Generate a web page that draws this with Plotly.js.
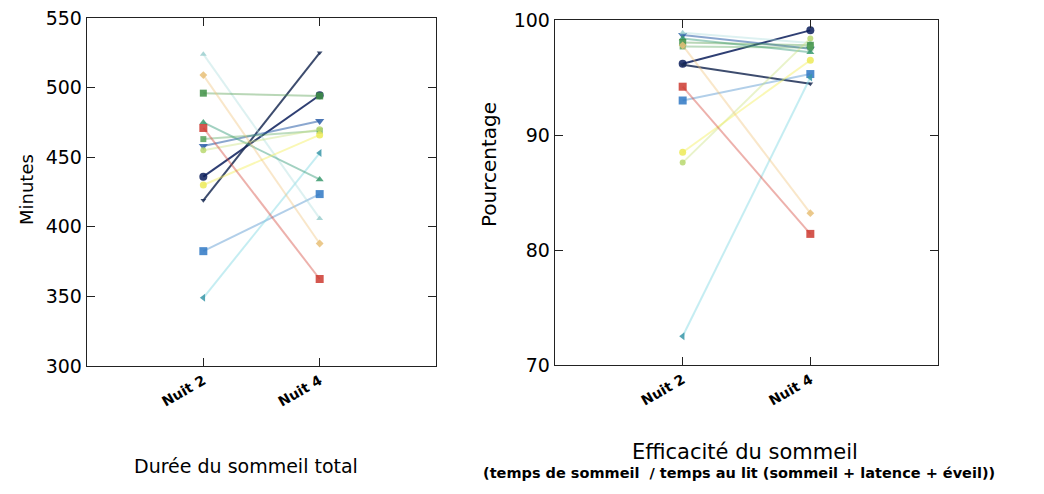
<!DOCTYPE html>
<html>
<head>
<meta charset="utf-8">
<script src="https://cdn.plot.ly/plotly-3.0.1.min.js"></script>
<style>html,body{margin:0;padding:0;background:#fff}#chart{width:1044px;height:494px}</style>
</head>
<body>
<div id="chart"></div>
<script>
// ---- data ----
const nights = ['Nuit 2', 'Nuit 4'];
// total sleep time (minutes), one pair [Nuit 2, Nuit 4] per subject
const tstNuit2 = [436, 419, 458, 382.5, 349, 524, 475, 496, 463, 455, 430, 509, 471];
const tstNuit4 = [494.5, 525, 476, 423.5, 453, 406, 434, 494, 469, 470, 466, 388, 362.5];
// sleep efficiency (%)
const effNuit2 = [96.2, 96.1, 98.7, 93.0, 72.5, 98.9, 98.4, 98.05, 97.7, 87.6, 88.5, 97.8, 94.2];
const effNuit4 = [99.1, 94.45, 97.5, 95.3, 95.0, 98.0, 97.2, 97.8, 97.6, 98.4, 96.5, 83.2, 81.4];
const tstTicks = [300, 350, 400, 450, 500, 550];
const effTicks = [70, 80, 90, 100];

// ---- styles ----
const lineColors = ['#0b1d5a', '#1b2d55', '#2c5ea8', '#3f86c8', '#7fd6e2', '#a9dcdc', '#45a384', '#4f9c4a', '#5aa860', '#c9e27a', '#f3ef5c', '#f0c27a', '#d23b2f'];
const markColors = ['#0b1d5a', '#1b2d55', '#2c5ea8', '#2f78c4', '#3a96a8', '#9ccfcf', '#3b9a6e', '#3f9145', '#57a35a', '#b9d870', '#ecea58', '#e8bf78', '#cc3a30'];
const lineAlpha = [0.85, 0.85, 0.55, 0.4, 0.45, 0.4, 0.5, 0.4, 0.4, 0.4, 0.45, 0.4, 0.4];
const symbols = ['circle', 'triangle-down', 'triangle-down', 'square', 'triangle-left', 'triangle-up', 'triangle-up', 'square', 'square', 'circle', 'circle', 'diamond', 'square'];
const msize = [8, 5, 8, 8, 7, 6, 7, 7, 6, 6, 7, 6, 8];

function hexA(h, a) {
  const r = parseInt(h.slice(1, 3), 16), g = parseInt(h.slice(3, 5), 16), b = parseInt(h.slice(5, 7), 16);
  return 'rgba(' + r + ',' + g + ',' + b + ',' + a + ')';
}

const traces = [];
for (let i = 0; i < tstNuit2.length; i++) {
  traces.push({
    type: 'scatter', mode: 'lines+markers', xaxis: 'x', yaxis: 'y',
    x: nights, y: [tstNuit2[i], tstNuit4[i]],
    line: {color: hexA(lineColors[i], lineAlpha[i]), width: 2},
    marker: {color: markColors[i], symbol: symbols[i], size: msize[i], opacity: 0.85},
    showlegend: false, hoverinfo: 'y'
  });
  traces.push({
    type: 'scatter', mode: 'lines+markers', xaxis: 'x2', yaxis: 'y2',
    x: nights, y: [effNuit2[i], effNuit4[i]],
    line: {color: hexA(lineColors[i], lineAlpha[i]), width: 2},
    marker: {color: markColors[i], symbol: symbols[i], size: msize[i], opacity: 0.85},
    showlegend: false, hoverinfo: 'y'
  });
}

const W = 1044, H = 494;
const FONT = 'DejaVu Sans, Liberation Sans, Arial, sans-serif';
const xBase = {
  type: 'category', range: [-1, 2], showgrid: false, zeroline: false,
  showline: true, linecolor: '#222', linewidth: 1.3, mirror: 'ticks',
  ticks: 'inside', ticklen: 8, tickcolor: '#222', tickangle: -30,
  tickfont: {family: FONT, size: 14, color: '#000', weight: 'bold'}
};
const yBase = {
  showgrid: false, zeroline: false, showline: true, linecolor: '#222', linewidth: 1.3,
  mirror: 'ticks', ticks: 'inside', ticklen: 8, tickcolor: '#222',
  tickfont: {family: FONT, size: 19, color: '#000'}
};
function ann(text, px, py, size, extra) {
  return Object.assign({
    text: text, xref: 'paper', yref: 'paper', x: px / W, y: 1 - py / H,
    xanchor: 'center', yanchor: 'middle', showarrow: false,
    font: {family: FONT, size: size, color: '#000'}
  }, extra || {});
}
const layout = {
  width: W, height: H, margin: {l: 0, r: 0, t: 0, b: 0},
  paper_bgcolor: '#fff', plot_bgcolor: '#fff', showlegend: false,
  xaxis: Object.assign({}, xBase, {domain: [87 / W, 436 / W], anchor: 'y'}),
  yaxis: Object.assign({}, yBase, {domain: [1 - 366 / H, 1 - 18 / H], range: [300, 550], tickvals: tstTicks, anchor: 'x'}),
  xaxis2: Object.assign({}, xBase, {domain: [555 / W, 938 / W], anchor: 'y2'}),
  yaxis2: Object.assign({}, yBase, {domain: [1 - 365 / H, 1 - 20 / H], range: [70, 100], tickvals: effTicks, anchor: 'x2'}),
  annotations: [
    ann('Minutes', 27, 190, 18, {textangle: -90}),
    ann('Pourcentage', 489, 165, 20, {textangle: -90}),
    ann('Durée du sommeil total', 246, 466, 19),
    ann('Efficacité du sommeil', 745, 452, 21),
    ann('(temps de sommeil  / temps au lit (sommeil + latence + éveil))', 739, 473, 14.5, {font: {family: FONT, size: 14.5, color: '#000', weight: 'bold'}})
  ]
};
Plotly.newPlot('chart', traces, layout, {staticPlot: true});
</script>
</body>
</html>
